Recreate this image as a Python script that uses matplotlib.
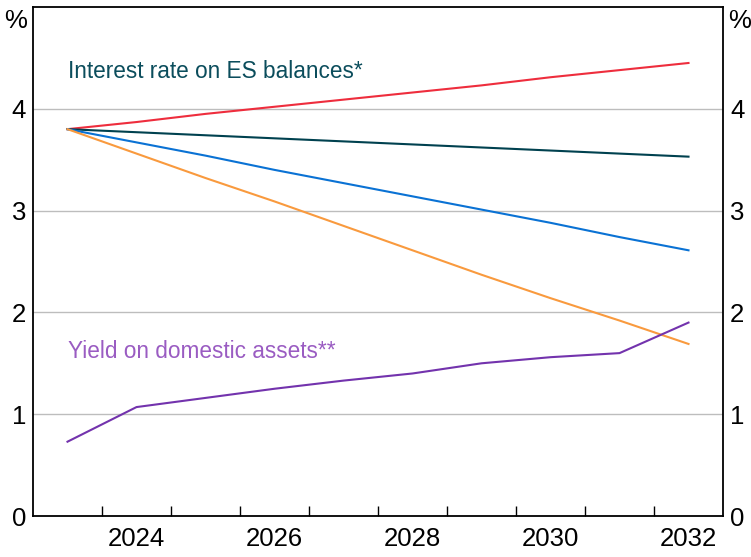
import matplotlib.pyplot as plt
import numpy as np
from matplotlib.ticker import FixedLocator, NullFormatter

plt.rcParams.update({
    "font.family": ["Liberation Sans Narrow", "Liberation Sans", "DejaVu Sans"],
    "font.size": 18,
})

years = [2023.5, 2024.5, 2025.5, 2026.5, 2027.5, 2028.5, 2029.5, 2030.5, 2031.5, 2032.5]
es_high = [3.80, 3.87, 3.95, 4.02, 4.09, 4.16, 4.23, 4.31, 4.38, 4.45]
es_base = [3.80, 3.77, 3.74, 3.71, 3.68, 3.65, 3.62, 3.59, 3.56, 3.53]
es_mid = [3.80, 3.67, 3.54, 3.40, 3.27, 3.14, 3.01, 2.88, 2.74, 2.61]
es_low = [3.80, 3.56, 3.32, 3.09, 2.85, 2.61, 2.37, 2.14, 1.92, 1.69]
domestic = [0.73, 1.07, 1.16, 1.25, 1.33, 1.40, 1.50, 1.56, 1.60, 1.90]

RED, TEAL, BLUE, ORANGE, PURPLE = "#ee2d3d", "#00414f", "#0a72d4", "#f99a3e", "#7333ad"

fig = plt.figure(figsize=(7.51, 5.57), dpi=100)
ax = fig.add_axes([33 / 751, 1 - 516 / 557, 690 / 751, 509 / 557])

lw = 1.5
ax.plot(years, es_high, color=RED, lw=lw)
ax.plot(years, es_base, color=TEAL, lw=lw)
ax.plot(years, es_mid, color=BLUE, lw=lw)
ax.plot(years, es_low, color=ORANGE, lw=lw)
ax.plot(years, domestic, color=PURPLE, lw=lw)

ax.set_xlim(2023, 2033)
ax.set_ylim(0, 5)

for y in [1, 2, 3, 4]:
    ax.axhline(y, color="#bdbdbd", lw=1, zorder=0)

for s in ax.spines.values():
    s.set_linewidth(1.3)
    s.set_color("black")

# year-boundary ticks, labels centred on mid-year
ax.xaxis.set_major_locator(FixedLocator(np.arange(2024, 2033)))
ax.xaxis.set_major_formatter(NullFormatter())
ax.xaxis.set_minor_locator(FixedLocator([2024.5, 2026.5, 2028.5, 2030.5, 2032.5]))
ax.set_xticklabels(["2024", "2026", "2028", "2030", "2032"], minor=True)
ax.tick_params(axis="x", which="major", direction="in", length=7, width=1, top=False)
ax.tick_params(axis="x", which="minor", length=0, pad=8, labelsize=18.5)

ax.set_yticks([0, 1, 2, 3, 4])
ax.tick_params(axis="y", which="both", length=0, labelsize=18.5, pad=5,
               labelleft=True, labelright=True, right=False)

ax.text(-0.008, 0.972, "%", transform=ax.transAxes, ha="right", va="center", fontsize=18.5)
ax.text(1.008, 0.972, "%", transform=ax.transAxes, ha="left", va="center", fontsize=18.5)

ax.text(2023.5, 4.37, "Interest rate on ES balances*", color="#0b4d5c",
        fontsize=16.3, va="center", ha="left")
ax.text(2023.5, 1.62, "Yield on domestic assets**", color="#9a5cc2",
        fontsize=16.3, va="center", ha="left")

fig.savefig("out.png", dpi=100)
